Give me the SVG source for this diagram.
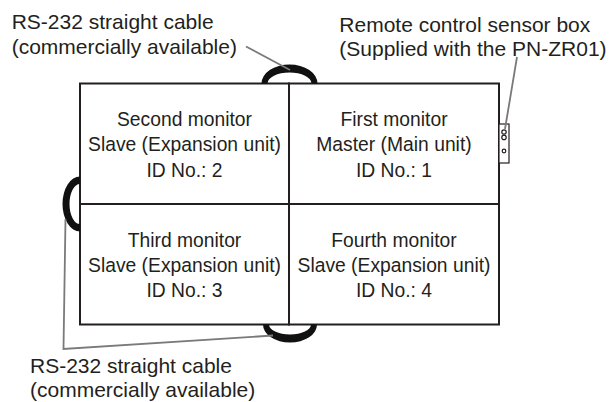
<svg xmlns="http://www.w3.org/2000/svg" width="610" height="402" viewBox="0 0 610 402">
<style>
  .t { font-family: "Liberation Sans", Arial, sans-serif; fill: #231f20; }
  .m { font-size: 19.3px; text-anchor: middle; }
  .l { font-size: 21px; }
  .frame { fill: none; stroke: #231f20; stroke-width: 2; }
  .cable { fill: #111; stroke: none; }
  .lead { fill: none; stroke: #7a7a7a; stroke-width: 1.8; stroke-linejoin: miter; }
  .sb { fill: #fff; stroke: #231f20; stroke-width: 1.2; }
</style>
<rect width="610" height="402" fill="#fff"/>

<g id="monitor-second">
  <rect class="frame" x="80" y="83.5" width="209" height="120.5"/>
  <text class="t m" x="184.5" y="125.5">Second monitor</text>
  <text class="t m" x="184.5" y="151">Slave (Expansion unit)</text>
  <text class="t m" x="184.5" y="176.5">ID No.: 2</text>
</g>
<g id="monitor-first">
  <rect class="frame" x="289" y="83.5" width="210" height="120.5"/>
  <text class="t m" x="394" y="125.5">First monitor</text>
  <text class="t m" x="394" y="151">Master (Main unit)</text>
  <text class="t m" x="394" y="176.5">ID No.: 1</text>
</g>
<g id="monitor-third">
  <rect class="frame" x="80" y="204" width="209" height="120.5"/>
  <text class="t m" x="184.5" y="246.5">Third monitor</text>
  <text class="t m" x="184.5" y="271.5">Slave (Expansion unit)</text>
  <text class="t m" x="184.5" y="297">ID No.: 3</text>
</g>
<g id="monitor-fourth">
  <rect class="frame" x="289" y="204" width="210" height="120.5"/>
  <text class="t m" x="394" y="246.5">Fourth monitor</text>
  <text class="t m" x="394" y="271.5">Slave (Expansion unit)</text>
  <text class="t m" x="394" y="297">ID No.: 4</text>
</g>

<g id="sensor-box">
  <rect class="sb" x="499" y="124" width="10" height="39"/>
  <circle class="sb" cx="504" cy="132" r="2.2"/>
  <circle class="sb" cx="504" cy="137.4" r="2.2"/>
  <circle class="sb" cx="504" cy="151" r="1.8"/>
</g>

<g id="connectors">
  <path class="cable" d="M261.5 83.5 A28 19 0 0 1 317.5 83.5 L311.5 83.5 A22 11 0 0 0 267.5 83.5 Z"/>
  <path class="cable" d="M80 176.5 A17.5 27.5 0 0 0 80 231.5 L80 224 A10.5 20 0 0 1 80 184 Z"/>
  <path class="cable" d="M263 324.5 A27 18 0 0 0 317 324.5 L311 324.5 A21 10 0 0 1 269 324.5 Z"/>
  <line class="lead" x1="246" y1="46.5" x2="290" y2="70"/>
  <polyline class="lead" points="65.5,219 63.5,349 273,335.5"/>
  <line class="lead" x1="517" y1="57" x2="505" y2="129"/>
</g>

<g id="label-top-cable">
  <text class="t l" x="11.7" y="29.3">RS-232 straight cable</text>
  <text class="t l" x="11.7" y="54">(commercially available)</text>
</g>
<g id="label-sensor">
  <text class="t l" x="339.3" y="31.5">Remote control sensor box</text>
  <text class="t l" x="339.3" y="56">(Supplied with the PN-ZR01)</text>
</g>
<g id="label-bottom-cable">
  <text class="t l" x="30" y="372.5">RS-232 straight cable</text>
  <text class="t l" x="30" y="396.5">(commercially available)</text>
</g>
</svg>
